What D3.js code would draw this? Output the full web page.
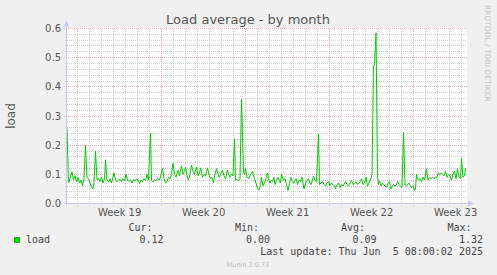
<!DOCTYPE html>
<html><head><meta charset="utf-8">
<script src="https://cdn.jsdelivr.net/npm/d3@7"></script>
<style>
html,body{margin:0;padding:0;background:#f0f0f0;}
svg{display:block;}
</style></head>
<body>
<svg id="chart" width="497" height="275"></svg>
<script>
// ---------- data ----------
const chartTitle = "Load average - by month";
const yLabel = "load";
const startTime = Date.UTC(2025, 4, 4, 2, 36); // chart start
const spanHours = 800;
const yTicks = [0.0, 0.1, 0.2, 0.3, 0.4, 0.5, 0.6];
// hours since chart start
const hours = [0,3,6,10,13,16,19,22,25,28,31,34,37,40,43,46,49,52,54,57,60,63,66,69,72,75,77,80,83,86,89,92,94,97,100,103,106,109,112,115,118,121,124,127,130,133,136,139,142,145,148,151,154,157,160,163,167,169,172,175,178,181,184,187,191,194,197,200,203,206,209,212,215,218,222,225,229,232,235,237,240,243,246,249,252,255,259,262,265,267,271,274,277,281,284,287,290,293,296,299,302,305,308,311,314,317,321,323,326,329,332,335,337,340,343,346,349,353,355,357,360,364,367,371,373,375,378,381,384,387,389,392,395,397,401,403,406,409,411,414,416,419,422,425,427,429,433,436,439,442,445,448,451,453,456,458,461,464,467,470,472,474,477,480,483,486,488,491,493,496,499,503,505,508,511,514,517,520,523,526,529,532,535,537,540,543,546,549,552,555,557,560,563,566,569,572,575,578,581,584,587,589,592,595,598,601,604,607,610,613,615,618,621,623,625,628,631,633,636,639,642,645,648,651,653,656,659,661,664,667,670,673,676,679,681,684,687,689,692,695,697,699,701,703,706,709,712,715,719,722,725,728,731,734,737,739,743,745,748,751,754,757,760,763,766,769,772,775,778,781,784,787,789,792,795,797];
const load = [0.258,0.07,0.085,0.108,0.08,0.095,0.075,0.09,0.07,0.08,0.06,0.085,0.2,0.09,0.085,0.07,0.055,0.05,0.07,0.18,0.08,0.085,0.075,0.09,0.07,0.085,0.15,0.08,0.075,0.085,0.07,0.09,0.105,0.08,0.075,0.08,0.082,0.075,0.085,0.078,0.1,0.08,0.075,0.08,0.07,0.082,0.078,0.085,0.08,0.068,0.08,0.075,0.085,0.078,0.1,0.08,0.24,0.08,0.075,0.08,0.078,0.085,0.08,0.09,0.12,0.085,0.07,0.075,0.09,0.085,0.1,0.138,0.1,0.09,0.114,0.095,0.129,0.1,0.11,0.125,0.095,0.08,0.1,0.131,0.11,0.1,0.125,0.095,0.105,0.122,0.09,0.1,0.095,0.122,0.1,0.085,0.09,0.072,0.1,0.12,0.1,0.09,0.105,0.114,0.095,0.085,0.115,0.1,0.09,0.1,0.095,0.222,0.08,0.082,0.078,0.085,0.357,0.108,0.1,0.12,0.09,0.085,0.1,0.11,0.095,0.086,0.07,0.051,0.045,0.065,0.09,0.06,0.07,0.08,0.105,0.085,0.07,0.08,0.075,0.09,0.065,0.08,0.09,0.075,0.07,0.1,0.08,0.085,0.065,0.045,0.07,0.09,0.075,0.07,0.08,0.085,0.065,0.08,0.075,0.09,0.07,0.05,0.07,0.08,0.085,0.07,0.065,0.08,0.093,0.08,0.075,0.237,0.065,0.07,0.075,0.065,0.06,0.07,0.075,0.06,0.07,0.065,0.06,0.05,0.065,0.07,0.055,0.065,0.06,0.07,0.075,0.065,0.06,0.07,0.08,0.065,0.07,0.075,0.065,0.07,0.075,0.085,0.065,0.07,0.09,0.06,0.07,0.08,0.1,0.47,0.48,0.585,0.1,0.065,0.076,0.06,0.07,0.065,0.06,0.055,0.07,0.075,0.05,0.06,0.065,0.06,0.065,0.075,0.065,0.06,0.055,0.245,0.065,0.06,0.065,0.07,0.06,0.055,0.06,0.045,0.05,0.1,0.085,0.08,0.085,0.075,0.09,0.08,0.12,0.08,0.09,0.085,0.09,0.085,0.09,0.087,0.106,0.1,0.105,0.1,0.095,0.11,0.09,0.1,0.095,0.08,0.1,0.11,0.085,0.12,0.09,0.085,0.154,0.09,0.095,0.12];
const legendHeaders = ["Cur:", "Min:", "Avg:", "Max:"];
const legendValues = ["0.12", "0.00", "0.09", "1.32"];
const seriesName = "load";
const lastUpdate = "Last update: Thu Jun  5 08:00:02 2025";
const footer = "Munin 2.0.73";
const watermark = "RRDTOOL / TOBI OETIKER";

// ---------- chart ----------
const svg = d3.select("#chart");
const W = 497, H = 275;
const pLeft = 67, pRight = 467, pTop = 28.5, pBottom = 203.5;
const lineColor = "#00cc00";

svg.append("rect").attr("width", W).attr("height", H).attr("fill", "#f0f0f0");

const t0 = new Date(startTime), t1 = new Date(startTime + spanHours * 3600e3);
const x = d3.scaleUtc().domain([t0, t1]).range([pLeft, pRight]);
const y = d3.scaleLinear().domain([0, 0.6]).range([pBottom, pTop]);

// plot background
svg.append("rect").attr("x", pLeft).attr("y", pTop - 0.5).attr("width", pRight - pLeft).attr("height", pBottom - pTop + 0.5).attr("fill", "#ffffff");

const px = v => Math.floor(v) + 0.5;
const grid = svg.append("g").attr("shape-rendering", "crispEdges");
const minorColor = "#d2d2d2", majorColor = "#e8b4b4";

// minor horizontal
d3.range(0, 31).map(i => i * 0.02).forEach(v => {
  if (Math.abs(v * 10 - Math.round(v * 10)) < 1e-6) return;
  const yy = px(y(v));
  grid.append("line").attr("x1", pLeft - 2).attr("x2", pRight).attr("y1", yy).attr("y2", yy)
    .attr("stroke", minorColor).attr("stroke-dasharray", "1,1");
});
// minor vertical (days)
d3.utcDay.range(t0, t1).forEach(d => {
  if (d.getUTCDay() === 1) return;
  const xx = px(x(d));
  if (xx < pLeft) return;
  grid.append("line").attr("x1", xx).attr("x2", xx).attr("y1", pTop).attr("y2", pBottom + 2)
    .attr("stroke", minorColor).attr("stroke-dasharray", "1,1");
});
// major horizontal
yTicks.forEach(v => {
  const yy = px(y(v));
  grid.append("line").attr("x1", pLeft - 3).attr("x2", pRight).attr("y1", yy).attr("y2", yy)
    .attr("stroke", majorColor).attr("stroke-dasharray", "1,1");
});
// major vertical (weeks)
const weeks = d3.utcMonday.range(t0, t1);
weeks.forEach(d => {
  const xx = px(x(d));
  grid.append("line").attr("x1", xx).attr("x2", xx).attr("y1", pTop).attr("y2", pBottom + 3)
    .attr("stroke", majorColor).attr("stroke-dasharray", "1,1");
});

// axes lines + arrows
const axisColor = "#c8c8f4";
svg.append("line").attr("x1", pLeft - 0.5).attr("x2", pLeft - 0.5).attr("y1", pBottom + 2).attr("y2", pTop - 4)
  .attr("stroke", axisColor).attr("shape-rendering", "crispEdges");
svg.append("line").attr("x1", pLeft - 3).attr("x2", pRight + 3).attr("y1", pBottom).attr("y2", pBottom)
  .attr("stroke", axisColor).attr("shape-rendering", "crispEdges");
svg.append("path").attr("d", `M${pLeft - 0.5},${pTop - 8} L${pLeft - 3.5},${pTop - 2} L${pLeft + 2.5},${pTop - 2} Z`).attr("fill", axisColor);
svg.append("path").attr("d", `M${pRight + 7},${pBottom} L${pRight + 1},${pBottom - 3} L${pRight + 1},${pBottom + 3} Z`).attr("fill", axisColor);

// y tick labels
const textColor = "#555555";
yTicks.forEach(v => {
  svg.append("text").attr("x", pLeft - 6).attr("y", y(v)).attr("dy", "0.36em")
    .attr("text-anchor", "end").attr("font-family", "DejaVu Sans").attr("font-size", 10)
    .attr("fill", textColor).text(d3.format(".1f")(v));
});
// x labels (week names, mid-week)
const weekFmt = d3.utcFormat("%V");
weeks.concat([d3.utcMonday.floor(t0)]).forEach(d => {
  const mid = new Date(+d + 3.5 * 864e5);
  const xx = x(mid);
  if (xx < pLeft || xx > pRight) return;
  svg.append("text").attr("x", xx).attr("y", 216).attr("text-anchor", "middle")
    .attr("font-family", "DejaVu Sans").attr("font-size", 10).attr("fill", textColor)
    .text("Week " + (+weekFmt(d)));
});

// data line
svg.append("clipPath").attr("id", "clip").append("rect").attr("x", pLeft).attr("y", pTop - 1).attr("width", pRight - pLeft).attr("height", pBottom - pTop + 1);
const pts = hours.map((h, i) => ({t: new Date(startTime + h * 3600e3), v: load[i]}));
svg.append("path").datum(pts).attr("clip-path", "url(#clip)")
  .attr("fill", "none").attr("stroke", lineColor).attr("stroke-width", 1)
  .attr("d", d3.line().defined(d => d.v != null).x(d => x(d.t)).y(d => y(d.v)));

// title
svg.append("text").attr("x", 248).attr("y", 24).attr("text-anchor", "middle")
  .attr("font-family", "DejaVu Sans").attr("font-size", 13).attr("fill", textColor).text(chartTitle);
// y label
svg.append("text").attr("transform", `translate(15,${(pTop + pBottom) / 2}) rotate(-90)`)
  .attr("text-anchor", "middle").attr("font-family", "DejaVu Sans").attr("font-size", 12)
  .attr("fill", textColor).text(yLabel);
// watermark
svg.append("text").attr("transform", "translate(485,5) rotate(90)")
  .attr("font-family", "DejaVu Sans").attr("font-size", 7.5).attr("fill", "#c4c4c4").text(watermark);

// legend
const mono = "DejaVu Sans Mono";
const legColor = "#444444";
const headerEnds = [152.5, 259, 365, 471.5];
const valueEnds = [163.5, 270, 376.5, 483];
legendHeaders.forEach((h, i) => {
  svg.append("text").attr("x", headerEnds[i]).attr("y", 231).attr("text-anchor", "end")
    .attr("font-family", mono).attr("font-size", 10).attr("fill", legColor).text(h);
});
svg.append("rect").attr("x", 14).attr("y", 237).attr("width", 6).attr("height", 6).attr("fill", lineColor);
svg.append("text").attr("x", 26).attr("y", 243).attr("font-family", mono).attr("font-size", 10)
  .attr("fill", legColor).text(seriesName);
legendValues.forEach((v, i) => {
  svg.append("text").attr("x", valueEnds[i]).attr("y", 243).attr("text-anchor", "end")
    .attr("font-family", mono).attr("font-size", 10).attr("fill", legColor).text(v);
});
svg.append("text").attr("x", 483).attr("y", 255).attr("text-anchor", "end")
  .style("white-space", "pre")
  .attr("font-family", mono).attr("font-size", 10).attr("fill", legColor).text(lastUpdate);
svg.append("text").attr("x", 248).attr("y", 266.5).attr("text-anchor", "middle")
  .attr("font-family", "DejaVu Sans").attr("font-size", 6.5).attr("fill", "#bbbbbb").text(footer);
</script>
</body></html>
